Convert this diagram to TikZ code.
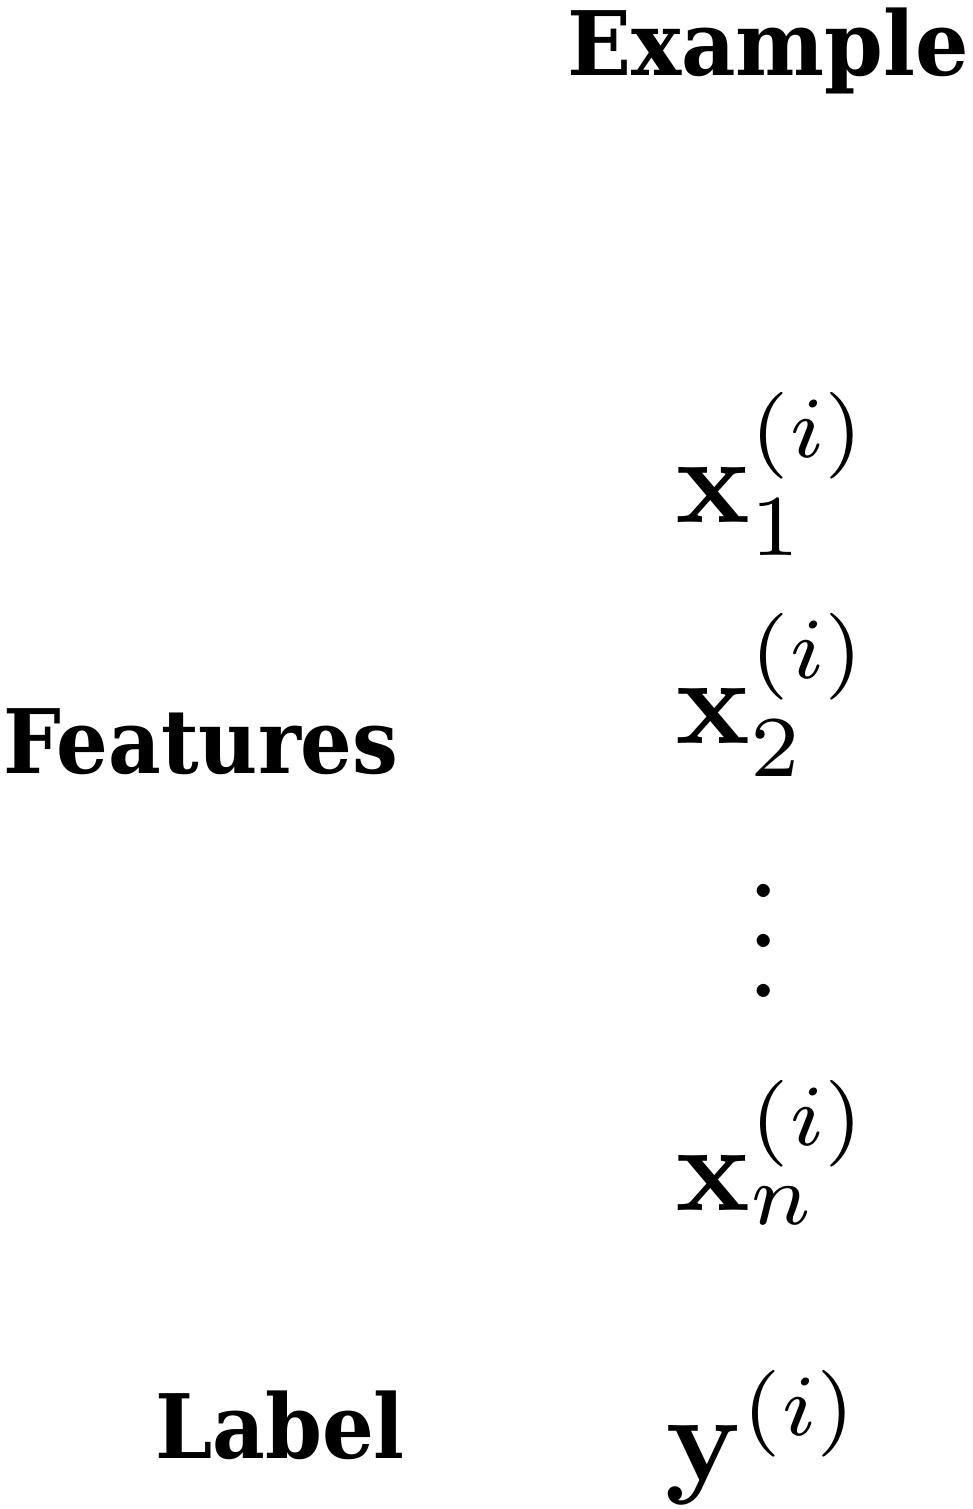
\documentclass[tikz,border=0pt]{standalone}
\usepackage[no-math]{fontspec}
\newfontfamily\headfont{DejaVu Serif}
\tikzset{
  head/.style={anchor=base west, inner sep=0pt, font=\headfont\bfseries\fontsize{89}{100}\selectfont},
  sym/.style={anchor=base west, inner sep=0pt}
}
\newcommand{\bigmath}[1]{\scalebox{12.4}{$#1$}}
\newcommand{\headtext}[2][0.915]{\scalebox{#1}[1]{#2}}
\begin{document}
\begin{tikzpicture}[x=1pt,y=1pt]
\useasboundingbox (0,0) rectangle (973,-1509);
\node[head] (example) at (567,-76) {\headtext[0.945]{Example}};
\node[head] (features) at (3,-773) {\headtext{Features}};
\node[head] (label) at (155,-1458) {\headtext{Label}};
\node[sym] (x1) at (675,-522) {\bigmath{\mathbf{x}_1^{(i)}}};
\node[sym] (x2) at (675,-743) {\bigmath{\mathbf{x}_2^{(i)}}};
\node[sym] (dots) at (746,-997) {\bigmath{\vdots}};
\node[sym] (xn) at (675,-1210) {\bigmath{\mathbf{x}_n^{(i)}}};
\node[sym] (y) at (665,-1480) {\bigmath{\mathbf{y}^{(i)}}};
\end{tikzpicture}
\end{document}
